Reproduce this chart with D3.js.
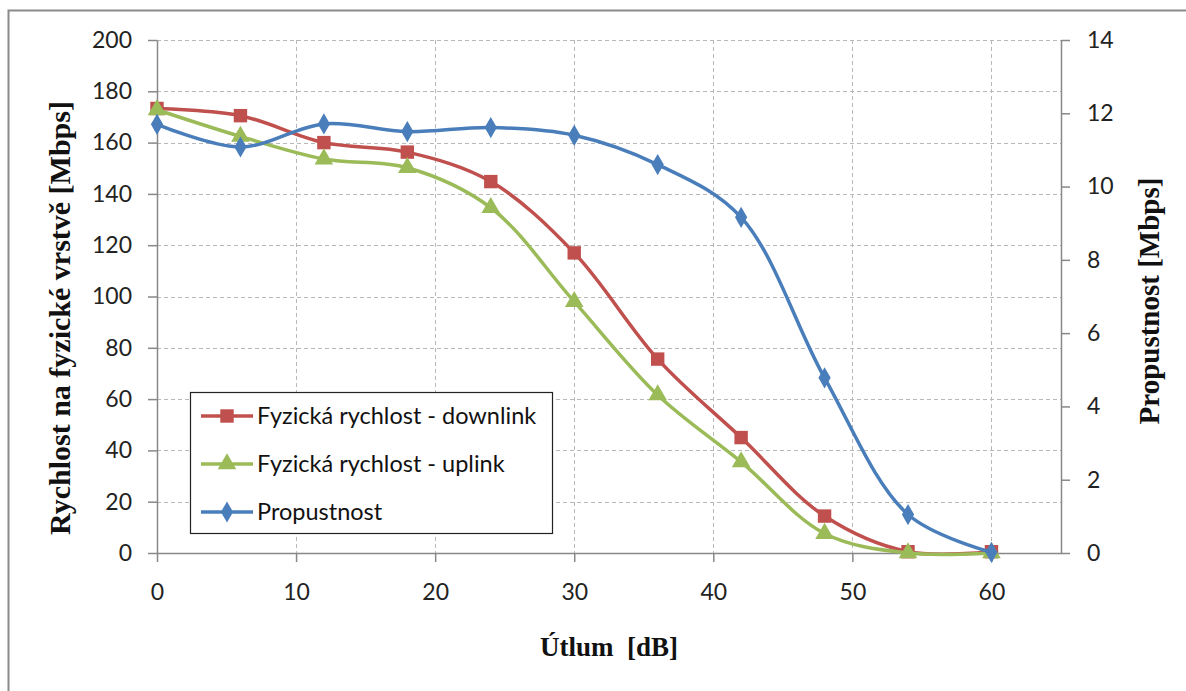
<!doctype html>
<html>
<head>
  <meta charset="utf-8">
  <title>Útlum vs. rychlost</title>
  <script src="https://cdnjs.cloudflare.com/ajax/libs/d3/7.8.5/d3.min.js"></script>
  <style>
    body { margin: 0; background: #fff; }
    .tick text { font-family: Lato, "Open Sans", sans-serif; font-size: 23px; fill: #222; }
    .axis-title { font-family: "Liberation Serif", serif; font-weight: bold; fill: #111; }
    .legend text { font-family: Lato, "Open Sans", sans-serif; font-size: 23.5px; fill: #111; }
  </style>
</head>
<body>
  <div id="chart"></div>
  <script>
    // attenuation in dB
    const utlum = [0, 6, 12, 18, 24, 30, 36, 42, 48, 54, 60];
    // physical rate, Mbps (left axis)
    const downlink = [173.3, 170.5, 160, 156.3, 144.8, 117, 75.6, 45, 14.4, 0.5, 0.5];
    const uplink = [172.8, 162.4, 153.6, 150.2, 134.6, 98, 61.6, 35.5, 7.6, 0, 0];
    // throughput, Mbps (right axis)
    const propustnost = [11.7, 11.08, 11.71, 11.5, 11.61, 11.4, 10.6, 9.16, 4.78, 1.05, 0.02];

    const xTicks = [0, 10, 20, 30, 40, 50, 60];
    const yLeftTicks = [0, 20, 40, 60, 80, 100, 120, 140, 160, 180, 200];
    const yRightTicks = [0, 2, 4, 6, 8, 10, 12, 14];

    const series = [
      { name: 'Fyzická rychlost - downlink', values: downlink, color: '#C0504D', marker: 'square', axis: 'left' },
      { name: 'Fyzická rychlost - uplink', values: uplink, color: '#9BBB59', marker: 'triangle', axis: 'left' },
      { name: 'Propustnost', values: propustnost, color: '#4A7EBB', marker: 'diamond', axis: 'right' }
    ];

    const W = 1186, H = 691;
    const svg = d3.select('#chart').append('svg')
      .attr('width', W).attr('height', H);

    // outer chart border (runs off right and bottom)
    svg.append('rect')
      .attr('x', 8.5).attr('y', 10.5)
      .attr('width', 1200).attr('height', 700)
      .attr('fill', '#fff')
      .attr('stroke', '#8a8a8a').attr('stroke-width', 2);

    const pLeft = 157, pRight = 1061, pTop = 40, pBottom = 553;

    const x = d3.scaleLinear().domain([0, 65]).range([pLeft, pRight]);
    const yL = d3.scaleLinear().domain([0, 200]).range([pBottom, pTop]);
    const yR = d3.scaleLinear().domain([0, 14]).range([pBottom, pTop]);

    // gridlines
    svg.append('g').selectAll('line')
      .data(yLeftTicks.filter(d => d > 0))
      .join('line')
      .attr('x1', pLeft).attr('x2', pRight)
      .attr('y1', d => Math.round(yL(d)) + 0.5).attr('y2', d => Math.round(yL(d)) + 0.5)
      .attr('stroke', '#b8b8b8').attr('stroke-dasharray', '4,3');
    svg.append('g').selectAll('line')
      .data(xTicks.filter(d => d > 0))
      .join('line')
      .attr('x1', d => Math.round(x(d)) + 0.5).attr('x2', d => Math.round(x(d)) + 0.5)
      .attr('y1', pTop).attr('y2', pBottom)
      .attr('stroke', '#b8b8b8').attr('stroke-dasharray', '4,3');

    function styleAxis(g) {
      g.selectAll('.domain').attr('stroke', '#888').attr('stroke-width', 1.5);
      g.selectAll('.tick line').attr('stroke', '#888').attr('stroke-width', 1.5);
    }

    svg.append('g')
      .attr('transform', `translate(0,${pBottom})`)
      .call(d3.axisBottom(x).tickValues(xTicks).tickSize(9).tickSizeOuter(0).tickPadding(22))
      .call(styleAxis);
    svg.append('g')
      .attr('transform', `translate(${pLeft},0)`)
      .call(d3.axisLeft(yL).tickValues(yLeftTicks).tickSize(9).tickSizeOuter(0).tickPadding(16))
      .call(styleAxis);
    svg.append('g')
      .attr('transform', `translate(${pRight},0)`)
      .call(d3.axisRight(yR).tickValues(yRightTicks).tickSize(9).tickSizeOuter(0).tickPadding(17))
      .call(styleAxis);

    // axis titles
    svg.append('text').attr('class', 'axis-title')
      .attr('x', 609).attr('y', 656).attr('text-anchor', 'middle')
      .style('font-size', '27px')
      .attr('xml:space', 'preserve')
      .text('Útlum  [dB]');
    svg.append('text').attr('class', 'axis-title')
      .attr('transform', 'translate(70,318) rotate(-90)')
      .attr('text-anchor', 'middle')
      .style('font-size', '30px')
      .text('Rychlost na fyzické vrstvě [Mbps]');
    svg.append('text').attr('class', 'axis-title')
      .attr('transform', 'translate(1159,301) rotate(-90)')
      .attr('text-anchor', 'middle')
      .style('font-size', '29px')
      .text('Propustnost [Mbps]');

    const symbols = {
      square: d3.symbol().type(d3.symbolSquare).size(180),
      triangle: d3.symbol().type(d3.symbolTriangle).size(150),
      diamond: d3.symbol().type(d3.symbolDiamond).size(130)
    };

    // series lines + markers
    series.forEach(s => {
      const yS = s.axis === 'left' ? yL : yR;
      const pts = utlum.map((u, i) => [x(u), yS(s.values[i])]);
      svg.append('path')
        .attr('d', d3.line().curve(d3.curveCatmullRom.alpha(0.5))(pts))
        .attr('fill', 'none')
        .attr('stroke', s.color)
        .attr('stroke-width', 3.5);
      svg.append('g').selectAll('path')
        .data(pts)
        .join('path')
        .attr('transform', d => `translate(${d[0]},${d[1]})`)
        .attr('d', symbols[s.marker]())
        .attr('fill', s.color);
    });

    // legend
    const lg = svg.append('g').attr('class', 'legend');
    lg.append('rect')
      .attr('x', 190.5).attr('y', 392.5).attr('width', 362).attr('height', 141)
      .attr('fill', '#fff').attr('stroke', '#222').attr('stroke-width', 1.2);
    const items = lg.selectAll('g.item')
      .data(series)
      .join('g')
      .attr('class', 'item')
      .attr('transform', (d, i) => `translate(0,${416 + i * 48})`);
    items.append('line')
      .attr('x1', 201).attr('x2', 253)
      .attr('stroke', d => d.color).attr('stroke-width', 3.5);
    items.append('path')
      .attr('transform', 'translate(227,0)')
      .attr('d', d => symbols[d.marker]())
      .attr('fill', d => d.color);
    items.append('text')
      .attr('x', 257).attr('y', 8)
      .text(d => d.name);
  </script>
</body>
</html>
